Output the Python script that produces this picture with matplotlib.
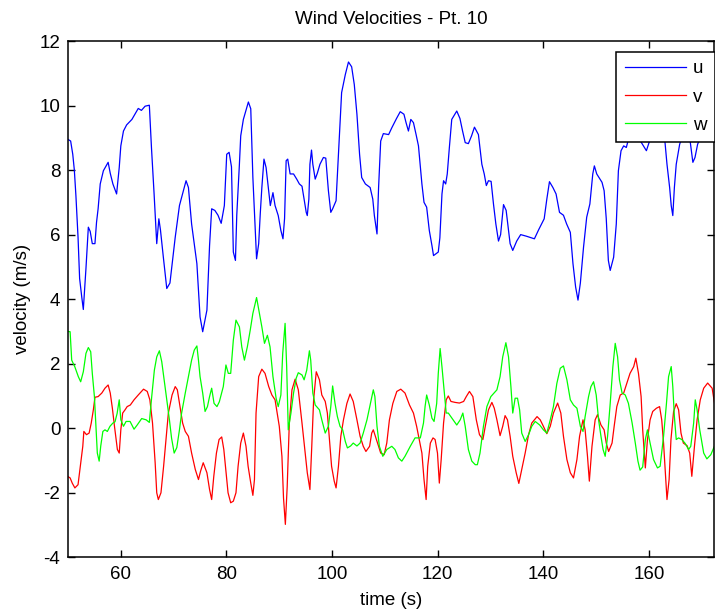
import matplotlib
matplotlib.use('Agg')
import matplotlib.pyplot as plt

# valores (tempo em s, velocidade em m/s)
t_u = [50.0, 50.5, 50.9, 51.2, 51.5, 51.9, 52.2, 52.6, 52.9, 53.4, 53.85, 54.2, 54.6, 55.1,
       55.4, 55.7, 56.1, 56.7, 57.6, 58.0, 58.5, 59.2, 59.7, 60.0, 60.5, 61.1, 62.1, 63.3,
       63.9, 64.6, 65.4, 65.8, 66.3, 66.8, 67.2, 67.5, 68.05, 68.7, 69.3, 70.3, 71.1, 72.35,
       72.8, 73.4, 74.4, 75.0, 75.5, 76.3, 76.8, 77.2, 77.8, 78.4, 79.0, 79.6, 80.05, 80.5,
       80.95, 81.3, 81.7, 81.95, 82.45, 82.7, 83.2, 84.15, 84.6, 85.0, 85.35, 85.7, 86.1,
       86.4, 86.7, 87.1, 87.5, 88.3, 88.8, 89.2, 89.8, 90.3, 90.7, 91.0, 91.3, 91.6, 92.05,
       92.7, 93.3, 93.8, 94.3, 94.7, 95.1, 95.3, 95.6, 95.8, 96.1, 96.35, 96.8, 97.2, 97.7,
       98.35, 98.8, 99.3, 99.75, 100.1, 100.75, 101.2, 101.5, 101.8, 102.5, 103.1, 103.7,
       104.2, 104.7, 105.2, 105.6, 106.3, 107.2, 107.7, 108.0, 108.5, 108.8, 109.2, 109.7,
       110.7, 111.3, 112.2, 112.9, 113.6, 114.0, 114.45, 114.9, 115.4, 115.9, 116.35, 117.0,
       117.4, 117.9, 118.4, 118.9, 119.2, 120.1, 120.4, 120.8, 121.1, 121.5, 121.8, 122.2,
       122.65, 123.6, 124.2, 124.7, 125.2, 125.8, 126.4, 126.95, 127.7, 128.35, 128.8, 129.2,
       129.6, 130.1, 130.55, 131.0, 131.5, 131.9, 132.45, 132.95, 133.4, 133.7, 134.2, 134.95,
       135.7, 136.8, 138.3, 139.1, 140.15, 140.65, 141.15, 141.8, 142.4, 143.05, 143.8, 144.4,
       145.1, 145.6, 146.1, 146.55, 147.0, 147.6, 148.2, 148.8, 149.35, 149.65, 150.1, 151.1,
       151.5, 151.9, 152.3, 152.65, 153.3, 153.8, 154.2, 154.7, 155.2, 155.7, 156.5, 158.0,
       159.5, 160.5, 162.0, 163.0, 163.4, 163.9, 164.2, 164.5, 164.8, 165.15, 165.8, 166.8,
       167.7, 168.3, 168.7, 169.2, 170.5, 172.3]
u = [8.95, 8.9, 8.49, 8.0, 7.2, 5.92, 4.64, 4.07, 3.68, 4.95, 6.23, 6.1, 5.72, 5.72,
     6.38, 6.8, 7.57, 7.98, 8.24, 7.9, 7.57, 7.26, 8.08, 8.75, 9.21, 9.4, 9.57, 9.91,
     9.85, 9.98, 10.01, 8.7, 7.26, 5.72, 6.49, 6.15, 5.3, 4.33, 4.5, 5.92, 6.9, 7.67,
     7.46, 6.33, 5.1, 3.45, 2.99, 3.66, 5.66, 6.8, 6.75, 6.6, 6.35, 6.9, 8.49, 8.55,
     8.1, 5.46, 5.2, 6.6, 8.18, 9.06, 9.57, 10.11, 9.9, 7.77, 6.5, 5.25, 5.72,
     6.65, 7.46, 8.34, 8.08, 6.9, 7.3, 6.9, 6.59, 6.13, 5.87, 6.5, 8.29, 8.34, 7.88,
     7.88, 7.72, 7.57, 7.5, 7.1, 6.69, 6.59, 7.1, 8.18, 8.62, 8.18, 7.72, 7.9, 8.18,
     8.39, 8.37, 7.36, 6.69, 6.8, 7.05, 8.49, 9.4, 10.4, 10.96, 11.35, 11.2,
     10.65, 9.73, 8.49, 7.77, 7.57, 7.46, 7.1, 6.59, 6.02, 7.46, 8.9, 9.13,
     9.1, 9.31, 9.6, 9.81, 9.73, 9.47, 9.21, 9.57, 9.47, 9.1, 8.75, 7.57,
     7.0, 6.85, 6.13, 5.66, 5.35, 5.46, 5.9, 7.26, 7.67, 7.57, 7.88, 8.7,
     9.57, 9.83, 9.6, 9.21, 8.85, 8.82, 9.06, 9.33, 9.1, 8.18, 7.88, 7.52,
     7.67, 7.65, 6.95, 6.33, 5.8, 6.0, 6.93, 6.75, 6.13, 5.72, 5.51, 5.8,
     6.0, 5.95, 5.87, 6.15, 6.49, 7.1, 7.64, 7.46, 7.26, 6.69, 6.6, 6.33,
     6.07, 5.1, 4.38, 3.97, 4.5, 5.61, 6.54, 6.95, 7.88, 8.13, 7.88, 7.62,
     7.36, 6.5, 5.2, 4.89, 5.3, 6.33, 7.98, 8.6, 8.75, 8.7, 9.2, 9.0,
     8.6, 9.1, 9.4, 8.9, 8.18, 7.46, 6.9, 6.59, 7.46, 8.18, 8.8, 9.3,
     9.0, 8.24, 8.39, 8.8, 9.3, 9.0]

t_v = [50.0, 50.4, 50.8, 51.3, 51.9, 52.3, 52.8, 53.0, 53.5, 54.0, 54.4, 54.8, 55.1, 55.7,
       56.4, 57.0, 57.6, 58.0, 58.4, 58.8, 59.35, 59.7, 60.0, 60.35, 60.8, 61.2, 61.8, 62.5,
       63.3, 64.3, 65.0, 65.5, 66.0, 66.5, 66.8, 67.1, 67.6, 68.1, 68.6, 69.0, 69.7, 70.3,
       70.7, 71.2, 71.7, 72.2, 72.8, 73.4, 74.1, 74.7, 75.1, 75.6, 76.3, 76.8, 77.2, 77.6,
       78.1, 78.6, 79.1, 79.5, 80.0, 80.3, 80.8, 81.3, 81.8, 82.2, 82.7, 83.2, 83.7, 84.1,
       84.6, 85.0, 85.3, 85.6, 86.1, 86.7, 87.3, 88.0, 88.6, 89.2, 89.5, 90.0, 90.5, 90.8,
       91.15, 91.5, 91.9, 92.4, 93.0, 93.6, 94.3, 94.9, 95.3, 95.8, 96.15, 96.5, 97.0, 97.6,
       98.05, 98.7, 99.1, 99.5, 99.9, 100.4, 100.75, 101.2, 101.65, 102.15, 102.8, 103.4,
       104.0, 104.7, 105.3, 105.9, 106.4, 107.1, 107.5, 107.8, 108.3, 108.8, 109.2, 109.85,
       110.35, 110.85, 111.5, 112.25, 113.0, 113.8, 114.65, 115.4, 116.0, 116.5, 117.0, 117.4,
       117.8, 118.1, 118.6, 119.1, 119.5, 119.95, 120.3, 120.65, 121.1, 121.6, 122.0, 122.5,
       123.3, 124.1, 124.9, 125.4, 126.0, 126.65, 127.3, 127.9, 128.55, 129.0, 129.6, 130.25,
       130.7, 131.2, 131.8, 132.3, 132.75, 133.2, 133.7, 134.2, 134.85, 135.35, 135.9, 136.55,
       137.2, 137.8, 138.8, 139.4, 140.0, 140.65, 141.3, 141.9, 142.7, 143.3, 143.8, 144.45,
       145.1, 145.7, 146.35, 146.85, 147.5, 147.9, 148.35, 148.7, 149.2, 149.8, 150.25, 150.9,
       151.5, 151.9, 152.35, 153.0, 153.4, 153.9, 154.55, 155.2, 155.8, 156.4, 157.1, 157.5,
       158.0, 158.5, 158.8, 159.3, 159.7, 160.2, 160.7, 161.4, 162.0, 162.4, 162.75, 163.1,
       163.4, 163.8, 164.15, 164.65, 165.15, 165.6, 166.05, 166.5, 167.2, 167.7, 168.1, 168.6,
       169.1, 169.7, 170.35, 171.1, 171.95, 172.5]
v = [-1.5, -1.54, -1.7, -1.85, -1.75, -1.23, -0.56, -0.1, -0.2, -0.15, 0.16, 0.57, 0.96, 0.98,
     1.09, 1.24, 1.34, 1.09, 0.62, 0.06, -0.66, -0.77, -0.05, 0.47, 0.57, 0.67, 0.72, 0.88,
     1.03, 1.21, 1.14, 0.88, 0.16, -1.07, -2.0, -2.21, -2.0, -1.18, -0.25, 0.47, 1.03, 1.29,
     1.19, 0.67, 0.16, -0.1, -0.25, -0.77, -1.28, -1.59, -1.33, -1.07, -1.38, -1.9, -2.21, -1.49,
     -0.77, -0.35, -0.27, -0.66, -1.49, -2.0, -2.31, -2.26, -2.0, -1.18, -0.46, -0.15, -0.56, -1.18,
     -1.7, -2.08, -1.59, 0.47, 1.6, 1.83, 1.7, 1.29, 1.03, 0.88, 0.57, 0.06, -0.87, -2.16,
     -2.98, -1.8, 0.16, 1.19, 1.52, 1.19, 0.16, -0.77, -1.38, -1.9, -0.56, 0.88, 1.75, 1.5,
     1.03, 0.83, 0.47, -0.35, -1.18, -1.64, -1.85, -1.18, -0.25, 0.26, 0.77, 1.06,
     0.83, 0.26, -0.25, -0.56, -0.72, -0.56, -0.15, -0.05, -0.3, -0.56, -0.77, -0.82,
     -0.46, 0.26, 0.77, 1.14, 1.21, 1.09, 0.72, 0.47, 0.06, -0.35, -0.77, -1.59,
     -2.21, -1.18, -0.46, -0.3, -0.35, -0.77, -1.7, -0.97, 0.16, 0.88, 1.0, 0.83,
     0.8, 0.78, 0.83, 0.98, 1.14, 0.98, 0.26, -0.2, -0.35, 0.06, 0.57, 0.8,
     0.62, 0.26, -0.23, 0.06, 0.39, 0.26, -0.25, -0.87, -1.38, -1.71, -1.28, -0.77,
     -0.2, 0.16, 0.36, 0.26, 0.06, -0.17, 0.06, 0.47, 0.78, 0.47, -0.25, -0.97,
     -1.38, -1.54, -0.97, -0.25, 0.26, -0.05, -0.87, -1.64, -0.56, 0.26, 0.42, 0.1,
     -0.05, -0.46, -0.72, -0.46, 0.06, 0.67, 1.03, 1.09, 1.4, 1.7, 1.91, 2.17,
     1.7, 0.98, -0.05, -1.23, -0.35, 0.26, 0.52, 0.62, 0.67, 0.26, -0.46, -1.38,
     -2.21, -1.59, -0.35, 0.52, 0.76, 0.57, -0.15, -0.46, -0.54, -0.77, -1.49, -0.56,
     0.26, 0.88, 1.24, 1.4, 1.24, 0.67]

t_w = [50.0, 50.4, 50.7, 51.3, 51.95, 52.4, 52.9, 53.4, 53.85, 54.3, 54.6, 55.0, 55.3, 55.55,
       55.9, 56.2, 56.6, 57.0, 57.45, 57.95, 58.5, 58.9, 59.3, 59.7, 60.0, 60.5, 61.0, 61.75,
       62.5, 63.1, 63.95, 64.8, 65.4, 65.85, 66.35, 66.8, 67.3, 67.75, 68.2, 68.55, 69.2, 69.6,
       70.1, 70.6, 71.1, 71.5, 72.2, 72.8, 73.4, 73.9, 74.4, 74.7, 75.0, 75.5, 75.95, 76.4,
       76.8, 77.2, 77.65, 78.2, 78.65, 79.4, 79.9, 80.35, 80.8, 81.3, 81.8, 82.45, 82.9, 83.4,
       83.95, 84.5, 85.0, 85.7, 86.2, 86.7, 87.2, 87.75, 88.25, 88.8, 89.4, 89.8, 90.3, 90.65,
       91.1, 91.4, 91.7, 92.2, 92.7, 93.2, 93.6, 94.3, 94.7, 95.2, 95.7, 95.95, 96.35, 96.8,
       97.6, 98.05, 98.7, 99.3, 99.75, 100.1, 100.55, 101.0, 101.5, 102.0, 102.5, 102.9, 103.5,
       104.0, 104.7, 105.3, 105.9, 106.6, 107.2, 107.8, 108.1, 108.5, 108.95, 109.6, 110.35,
       111.3, 111.9, 112.55, 113.2, 113.8, 114.8, 115.7, 116.7, 117.3, 117.6, 117.9, 118.4,
       118.9, 119.3, 119.8, 120.1, 120.45, 120.8, 121.2, 121.6, 122.0, 122.7, 123.6, 124.25,
       124.75, 125.2, 125.8, 126.45, 127.1, 127.5, 128.0, 128.65, 129.3, 130.05, 131.2, 131.8,
       132.3, 132.9, 133.4, 133.85, 134.2, 134.65, 135.1, 135.5, 135.9, 136.55, 137.2, 137.8,
       138.45, 139.3, 140.0, 140.65, 141.3, 141.9, 142.55, 143.2, 143.8, 144.45, 145.1, 145.7,
       146.35, 147.0, 147.5, 147.9, 148.55, 149.0, 149.5, 150.0, 150.45, 150.9, 151.3, 151.7,
       152.15, 152.65, 153.15, 153.6, 154.05, 154.4, 154.9, 155.5, 156.1, 156.8, 157.4, 157.9,
       158.3, 158.8, 159.3, 159.7, 160.2, 160.85, 161.6, 162.1, 162.75, 163.3, 163.7, 164.2,
       164.5, 164.8, 165.15, 165.6, 166.2, 166.8, 167.5, 167.9, 168.45, 168.75, 169.1, 169.6,
       170.35, 170.95, 171.7, 172.5]
w = [3.0, 2.99, 2.11, 1.9, 1.6, 1.44, 1.75, 2.32, 2.5, 2.37, 1.7, 0.98, 0.06, -0.77,
     -1.02, -0.55, -0.1, -0.05, -0.1, 0.06, 0.16, 0.2, 0.46, 0.88, 0.26, 0.06, 0.21, 0.21,
     -0.03, 0.1, 0.3, 0.26, 0.18, 0.98, 1.8, 2.21, 2.4, 2.06, 1.5, 1.09, 0.26, -0.3,
     -0.77, -0.6, -0.05, 0.46, 1.09, 1.6, 2.11, 2.42, 2.55, 2.11, 1.6, 1.09, 0.52, 0.67,
     0.98, 1.24, 0.77, 0.67, 0.82, 1.29, 1.96, 1.7, 1.7, 2.73, 3.35, 3.14, 2.52, 2.11,
     2.52, 3.04, 3.56, 4.05, 3.6, 3.14, 2.63, 2.88, 2.52, 1.6, 0.93, 0.67, 1.03, 2.32,
     3.25, 1.9, -0.05, 0.46, 1.09, 1.55, 1.72, 1.65, 1.5, 1.8, 2.4, 2.11, 1.09, 0.72,
     0.57, 0.26, -0.15, 0.06, 0.67, 1.31, 0.77, 0.36, 0.06, -0.05, -0.41, -0.61, -0.55,
     -0.46, -0.55, -0.46, -0.15, 0.26, 0.72, 1.19, 0.98, 0.06, -0.56, -0.87, -0.66,
     -0.56, -0.66, -0.92, -1.02, -0.87, -0.56, -0.3, -0.3, 0.16, 0.67, 1.03, 0.72,
     0.31, 0.21, 0.77, 1.7, 2.47, 1.9, 1.19, 0.47, 0.47, 0.31, 0.1, 0.26,
     0.47, 0.06, -0.66, -1.02, -1.13, -1.13, -0.77, 0.06, 0.67, 0.98, 1.19, 1.6,
     2.21, 2.65, 2.21, 1.29, 0.47, 0.93, 0.93, 0.57, -0.15, -0.41, -0.2, 0.06,
     0.21, 0.1, -0.05, -0.15, 0.26, 0.67, 1.39, 1.86, 1.93, 1.5, 0.88, 0.72,
     0.62, 0.06, -0.1, 0.36, 0.98, 1.29, 1.44, 1.03, 0.26, -0.25, -0.66, -0.87,
     -0.25, 0.77, 1.9, 2.63, 2.21, 1.5, 1.09, 1.03, 0.77, 0.16, -0.46, -1.02,
     -1.3, -1.2, -0.35, -0.05, -0.46, -0.97, -1.23, -1.18, -0.25, 0.77, 1.6, 1.91,
     1.29, 0.36, -0.35, -0.3, -0.35, -0.46, -0.66, -0.56, 0.16, 0.88, 0.57, -0.05,
     -0.77, -0.95, -0.82, -0.51]

X_TICKS = [60, 80, 100, 120, 140, 160]
Y_TICKS = [-4, -2, 0, 2, 4, 6, 8, 10, 12]

plt.rcParams['font.family'] = ['Liberation Sans', 'DejaVu Sans']
plt.rcParams['axes.unicode_minus'] = False
FS = 13.5

fig = plt.figure(figsize=(7.15, 6.11), dpi=100)
ax = fig.add_axes([68 / 715, (611 - 557.3) / 611, (714 - 68) / 715, (557.3 - 41) / 611])

ax.plot(t_u, u, color=(0, 0, 1), lw=0.9, label='u')
ax.plot(t_v, v, color=(1, 0, 0), lw=0.9, label='v')
ax.plot(t_w, w, color=(0, 1, 0), lw=0.9, label='w')

ax.set_xlim(50, 172.3)
ax.set_ylim(-4, 12)
ax.set_xticks(X_TICKS)
ax.set_yticks(Y_TICKS)
ax.tick_params(direction='in', length=5, width=1, top=True, right=True,
               labelsize=FS, colors='black')
ax.tick_params(axis='x', pad=6)
ax.tick_params(axis='y', pad=5.5)
for s in ax.spines.values():
    s.set_linewidth(1.1)

ax.set_xlabel('time (s)', fontsize=FS, labelpad=7)
ax.set_ylabel('velocity (m/s)', fontsize=FS, labelpad=6)
ax.set_title('Wind Velocities - Pt. 10', fontsize=FS, pad=12)

leg = ax.legend(loc='upper right', bbox_to_anchor=(714.5 / 715, 1 - 51.7 / 611),
                bbox_transform=fig.transFigure, borderaxespad=0, fontsize=FS,
                fancybox=False, shadow=False, framealpha=1, edgecolor='black',
                handlelength=3.25, handletextpad=0.37, borderpad=0.45,
                labelspacing=0.6)
leg.get_frame().set_linewidth(1.1)

plt.savefig('out.png', dpi=100)
